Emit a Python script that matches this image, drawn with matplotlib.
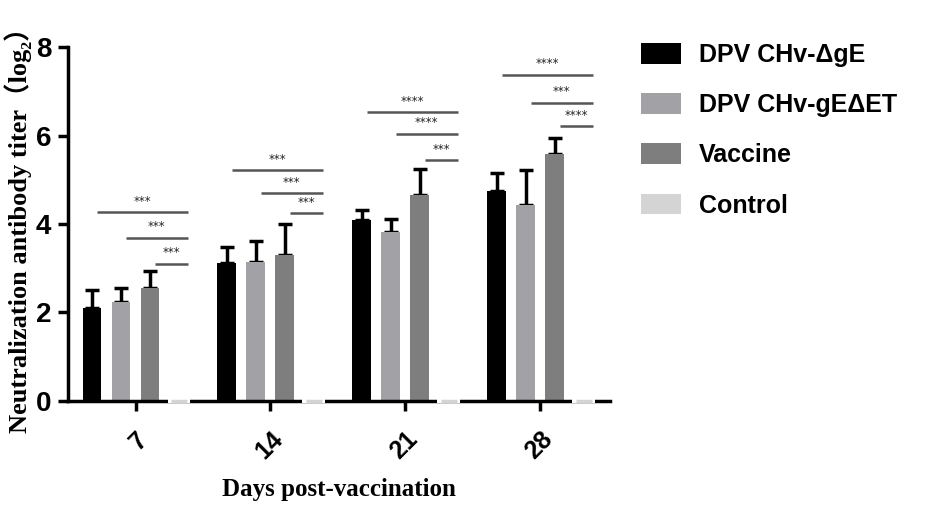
import matplotlib

matplotlib.use("Agg")
import matplotlib.pyplot as plt
import numpy as np
from matplotlib.patches import Patch

# data
days = ["7", "14", "21", "28"]
groups = ["DPV CHv-ΔgE", "DPV CHv-gEΔET", "Vaccine", "Control"]
means = {
    "DPV CHv-ΔgE":   [2.10, 3.11, 4.09, 4.75],
    "DPV CHv-gEΔET": [2.24, 3.14, 3.82, 4.44],
    "Vaccine":       [2.55, 3.31, 4.65, 5.59],
    "Control":       [0.0, 0.0, 0.0, 0.0],
}
err_top = {
    "DPV CHv-ΔgE":   [2.50, 3.48, 4.31, 5.16],
    "DPV CHv-gEΔET": [2.55, 3.62, 4.12, 5.21],
    "Vaccine":       [2.94, 4.00, 5.25, 5.94],
    "Control":       [0.0, 0.0, 0.0, 0.0],
}
# significance vs Control, per day: line heights and labels (ΔgE, gEΔET, Vaccine)
sig_y = [[4.27, 3.69, 3.10], [5.21, 4.69, 4.24], [6.53, 6.04, 5.44], [7.38, 6.74, 6.21]]
sig_lbl = [["***", "***", "***"], ["***", "***", "***"],
           ["****", "****", "***"], ["****", "***", "****"]]

colors = ["#000000", "#a2a2a6", "#7e7e7e", "#d4d4d4"]

fig = plt.figure(figsize=(9.45, 5.12), dpi=100)
ax = fig.add_axes([0.072, 0.217, 0.574, 0.691])

x = np.arange(len(days))
pitch, w = 0.215, 0.14
offsets = (np.arange(4) - 1.5) * pitch

for i, g in enumerate(groups):
    xs = x + offsets[i]
    m = np.array(means[g])
    if g == "Control":
        ax.bar(xs, m, width=w + 0.03, color="white", edgecolor="white", lw=3,
               zorder=5, clip_on=False)
        ax.bar(xs, m, width=w - 0.02, color=colors[i], edgecolor=colors[i], lw=2.5,
               zorder=6, clip_on=False)
        continue
    up = np.array(err_top[g]) - m
    ax.bar(xs, m, width=w, color=colors[i], edgecolor="none", zorder=2)
    ax.errorbar(xs, m, yerr=[np.zeros_like(up), up], fmt="none", ecolor="black",
                elinewidth=2.5, capsize=5, capthick=2.5, zorder=1)

# significance lines
ctrl_x = x + offsets[3]
for d in range(len(days)):
    for j in range(3):
        x0 = x[d] + offsets[j] + 0.035
        x1 = ctrl_x[d] + 0.065
        y = sig_y[d][j]
        ax.plot([x0, x1], [y, y], color="#555555", lw=1.8, solid_capstyle="butt")
        ax.text((x0 + x1) / 2, y + 0.1, sig_lbl[d][j], ha="center", va="bottom",
                fontsize=8.5, color="#222222")

ax.set_xlim(-0.5, 3.52)
ax.set_ylim(0, 8)
ax.set_yticks([0, 2, 4, 6, 8])
ax.set_xticks(x)
ax.set_xticklabels(days, rotation=45, ha="right", rotation_mode="anchor")
for lab in ax.get_yticklabels():
    lab.set_fontfamily("Liberation Sans")
    lab.set_fontweight("bold")
    lab.set_fontsize(20)
for lab in ax.get_xticklabels():
    lab.set_fontfamily("Liberation Sans")
    lab.set_fontweight("bold")
    lab.set_fontsize(18)
ax.spines[["top", "right"]].set_visible(False)
ax.spines["left"].set_linewidth(2.5)
ax.spines["bottom"].set_linewidth(2.5)
ax.tick_params(axis="both", width=2.5, length=7, direction="out")
ax.tick_params(axis="x", pad=12)
ax.tick_params(axis="y", pad=5)

ax.set_ylabel("Neutralization antibody titer（log₂）", fontsize=19, fontweight="bold",
              family=["Liberation Serif", "DejaVu Serif", "Noto Sans CJK SC"], labelpad=3)
ax.set_xlabel("Days post-vaccination", fontsize=18, fontweight="bold",
              family=["Liberation Serif"], labelpad=10)

handles = [Patch(facecolor=c, edgecolor="none") for c in colors]
leg = fig.legend(handles, groups, loc="upper left", bbox_to_anchor=(0.654, 0.96),
                 frameon=False, handlelength=1.6, handleheight=0.9,
                 labelspacing=1.05, handletextpad=0.75,
                 prop={"family": "Liberation Sans", "weight": "bold", "size": 18})

fig.savefig("out.png", dpi=100)
